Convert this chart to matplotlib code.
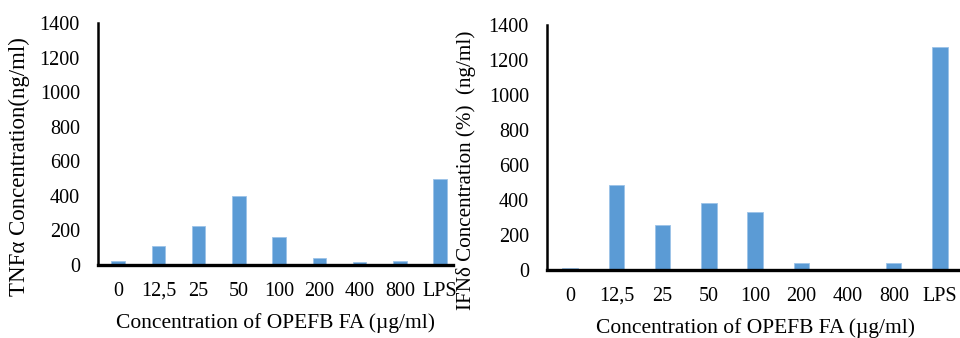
import matplotlib.pyplot as plt

# doses of OPEFB FA and the LPS control
doses = ['0', '12,5', '25', '50', '100', '200', '400', '800', 'LPS']
tnf_alpha = [23, 111, 228, 402, 162, 43, 18, 23, 496]
ifn_delta = [13, 488, 255, 383, 330, 40, 8, 40, 1272]

plt.rcParams['font.family'] = ['Liberation Serif', 'DejaVu Serif']
bar_color = '#5b9bd5'

W, H = 960, 338
fig = plt.figure(figsize=(W / 100, H / 100), dpi=100)


def px_axes(x0, y0, x1, y1):
    # pixel box (top-left origin) -> figure fraction
    return fig.add_axes([x0 / W, 1 - y1 / H, (x1 - x0) / W, (y1 - y0) / H])


def draw_panel(ax, values, ylabel, ylabel_size, ylabel_xy, xlabel_xy, xmax):
    x = range(len(doses))
    ax.bar(x, values, width=0.33, color=bar_color, edgecolor='#9cc3e8', linewidth=0.6, zorder=2)
    ax.set_xlim(-0.5, xmax)
    ax.set_ylim(0, 1400)
    ax.set_yticks(range(0, 1401, 200))
    ax.set_xticks(list(x))
    ax.set_xticklabels(doses)
    ax.tick_params(axis='x', length=0, pad=12, labelsize=14.5)
    ax.tick_params(axis='y', length=0, pad=13, labelsize=14.5)
    for s in ['top', 'right']:
        ax.spines[s].set_visible(False)
    ax.spines['left'].set_linewidth(1.8)
    ax.spines['bottom'].set_linewidth(2.4)
    ax.spines['bottom'].set_zorder(3)
    ax.set_xlabel('Concentration of OPEFB FA (\u00b5g/ml)', fontsize=15.5, va='center')
    ax.xaxis.set_label_coords(*xlabel_xy)
    ax.set_ylabel(ylabel, fontsize=ylabel_size, ha='center', va='center')
    ax.yaxis.set_label_coords(*ylabel_xy)


ax1 = px_axes(98, 23, 453, 265)
draw_panel(ax1, tnf_alpha, 'TNF\u03b1 Concentration(ng/ml)', 16.5,
           (-0.22, 0.405), (0.50, -0.24), 8.32)

ax2 = px_axes(547, 25, 960, 270)
draw_panel(ax2, ifn_delta, 'IFN\u03b4 Concentration (%)  (ng/ml)', 15.2,
           (-0.195, 0.408), (0.506, -0.237), 8.43)

fig.savefig('out.png', dpi=100)
